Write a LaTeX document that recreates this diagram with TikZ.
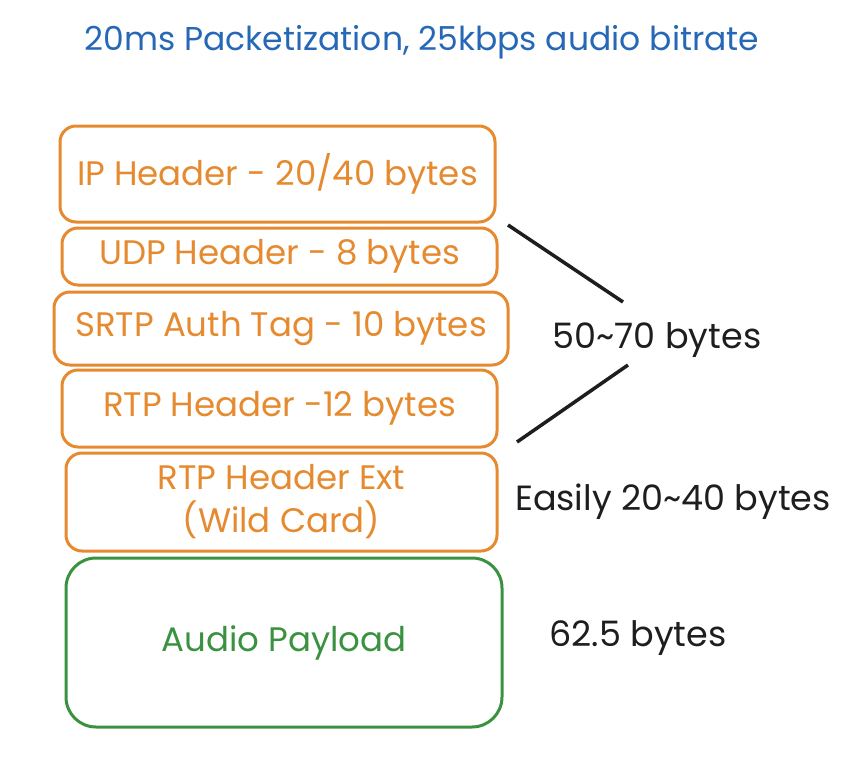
\documentclass[tikz,border=0pt]{standalone}
\usepackage{fontspec}
\setmainfont{Poppins}
\definecolor{hdrorange}{RGB}{230,138,48}
\definecolor{payloadgreen}{RGB}{58,146,64}
\definecolor{titleblue}{RGB}{38,104,182}
\definecolor{notegray}{RGB}{30,30,30}
\begin{document}
\begin{tikzpicture}[x=1pt, y=-1pt,
    layer/.style={draw=hdrorange, line width=3pt, rounded corners=16pt, text=hdrorange,
        font=\fontsize{34}{43}\selectfont, align=center, inner sep=0pt},
    payload/.style={layer, draw=payloadgreen, text=payloadgreen, rounded corners=30pt},
    note/.style={text=notegray, font=\fontsize{35}{40}\selectfont, inner sep=0pt}]
    \useasboundingbox (0,0) rectangle (864,766);
    \node[text=titleblue, font=\fontsize{33}{40}\selectfont] (title) at (422,42) {20ms Packetization, 25kbps audio bitrate};
    % header stack
    \node[layer, minimum width=435pt, minimum height=96pt] (ip) at (277.5,174) {IP Header - 20/40 bytes};
    \node[layer, minimum width=435pt, minimum height=57pt] (udp) at (279.5,256.5) {UDP Header - 8 bytes};
    \node[layer, minimum width=454pt, minimum height=73pt] (srtp) at (281,328.5) {SRTP Auth Tag - 10 bytes};
    \node[layer, minimum width=435pt, minimum height=77pt] (rtp) at (279.5,408.5) {RTP Header -12 bytes};
    \node[layer, minimum width=431pt, minimum height=98pt] (ext) at (281.5,502) {RTP Header Ext\\(Wild Card)};
    \node[payload, minimum width=436pt, minimum height=169pt] (audio) at (284,642.5) {Audio Payload};
    % sizes on the right
    \node[note] (fixed) at (657,340) {50\textasciitilde70 bytes};
    \node[note] (extsize) at (673,502) {Easily 20\textasciitilde40 bytes};
    \node[note] (audiosize) at (638,638) {62.5 bytes};
    \coordinate (top) at (508,225);
    \coordinate (topin) at (623,302);
    \coordinate (bot) at (517,442);
    \coordinate (botin) at (628,365);
    \draw[notegray, line width=3.5pt] (top) -- (topin);
    \draw[notegray, line width=3.5pt] (botin) -- (bot);
\end{tikzpicture}
\end{document}
